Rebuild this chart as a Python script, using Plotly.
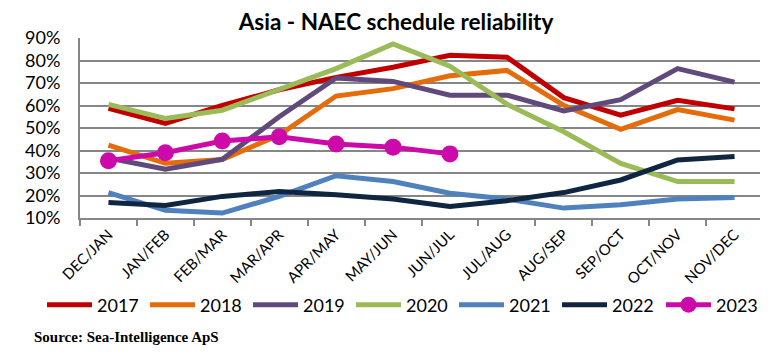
import plotly.graph_objects as go

categories = ["DEC/JAN", "JAN/FEB", "FEB/MAR", "MAR/APR", "APR/MAY", "MAY/JUN",
              "JUN/JUL", "JUL/AUG", "AUG/SEP", "SEP/OCT", "OCT/NOV", "NOV/DEC"]

y2017 = [58.7, 52.0, 60.0, 67.0, 72.5, 77.0, 82.3, 81.5, 63.5, 55.7, 62.3, 58.5]
y2018 = [42.4, 34.3, 36.0, 46.9, 64.2, 67.5, 73.2, 75.6, 60.1, 49.4, 58.2, 53.5]
y2019 = [36.7, 31.7, 36.1, 55.0, 72.2, 70.7, 64.6, 64.6, 57.6, 62.6, 76.4, 70.4]
y2020 = [60.5, 54.2, 57.9, 67.0, 76.4, 87.4, 77.5, 60.6, 48.3, 34.3, 26.2, 26.2]
y2021 = [21.3, 13.4, 12.2, 19.6, 28.8, 26.2, 21.0, 18.4, 14.4, 15.9, 18.4, 19.1]
y2022 = [16.9, 15.6, 19.6, 21.8, 20.3, 18.4, 15.1, 17.7, 21.3, 26.9, 35.8, 37.3]
y2023 = [35.4, 39.0, 44.2, 46.1, 42.9, 41.5, 38.5]

series = [
    ("2017", y2017, "#C00000"),
    ("2018", y2018, "#E46C0A"),
    ("2019", y2019, "#604A7B"),
    ("2020", y2020, "#9BBB59"),
    ("2021", y2021, "#4F81BD"),
    ("2022", y2022, "#10253F"),
]

# page body has an 8px margin: figure is sized/positioned to compensate
W, H = 760, 356
L, R, T, B = 72, 5.3, 29.5, 145.7

fig = go.Figure()
for name, vals, color in series:
    fig.add_trace(go.Scatter(x=categories[:len(vals)], y=vals, name=name, mode="lines",
                             line=dict(color=color, width=5)))
fig.add_trace(go.Scatter(x=categories[:len(y2023)], y=y2023, name="2023", mode="lines+markers",
                         line=dict(color="#CC0AAA", width=5),
                         marker=dict(size=17, color="#CC0AAA"), legend="legend2"))

legend_common = dict(orientation="h", xref="container", xanchor="left",
                     y=1 - 297 / H, yref="container", yanchor="middle",
                     bgcolor="rgba(0,0,0,0)",
                     font=dict(family="Lato", size=18, color="black"),
                     itemwidth=45, entrywidth=43, tracegroupgap=0, traceorder="normal")

fig.update_layout(
    width=W, height=H,
    margin=dict(l=L, r=R, t=T, b=B, pad=0, autoexpand=False),
    paper_bgcolor="white", plot_bgcolor="white",
    font=dict(family="Lato", color="black"),
    title=dict(text="<b>Asia - NAEC schedule reliability</b>", x=388 / W, xref="container",
               xanchor="center", y=1 - 14 / H, yref="container", yanchor="middle",
               font=dict(family="Lato", size=22.5, color="black")),
    showlegend=True,
    legend=dict(x=34 / W, **legend_common),
    legend2=dict(x=653 / W, **legend_common),
)
fig.update_xaxes(
    type="category", range=[-0.5, 11.5], tickson="boundaries", automargin=False,
    ticks="outside", ticklen=6, tickwidth=2, tickcolor="#868686",
    showline=True, linecolor="#868686", linewidth=2, showgrid=False,
    tickangle=-45, tickfont=dict(family="Lato", size=15, color="black"),
)
fig.update_yaxes(
    range=[10, 90], dtick=10, tick0=10, ticksuffix="%", automargin=False,
    showgrid=True, gridcolor="#868686", gridwidth=2, ticklabelstandoff=14,
    showline=True, linecolor="#868686", linewidth=2, zeroline=False,
    tickfont=dict(family="Lato", size=18, color="black"),
)
plot_h = H - T - B
fig.add_annotation(text="<b>Source: Sea-Intelligence ApS</b>", xref="paper", yref="paper",
                   x=(24 - L) / (W - L - R), y=-(330 - (H - B)) / plot_h,
                   xanchor="left", yanchor="middle",
                   showarrow=False, font=dict(family="Liberation Serif", size=15, color="black"))

fig.write_html("out.html")
